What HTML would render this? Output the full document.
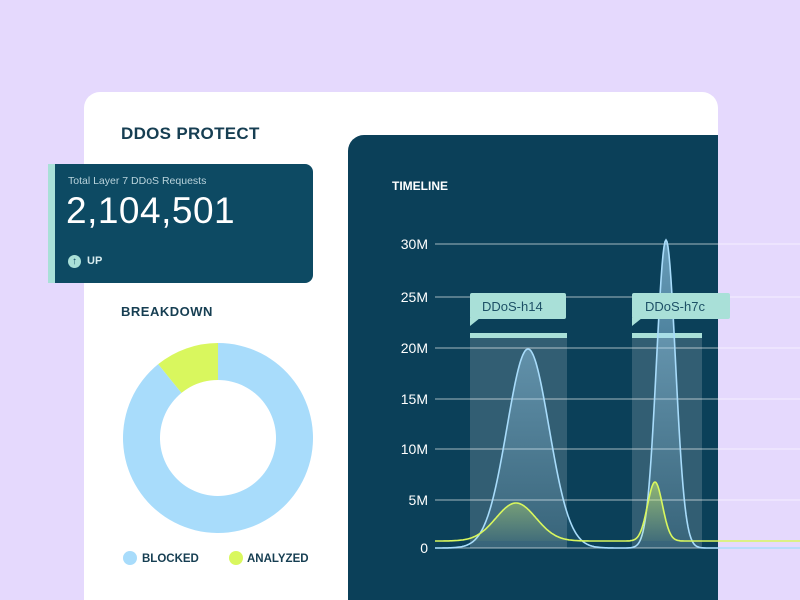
<!DOCTYPE html>
<html style="width:800px;height:600px;overflow:hidden"><head><meta charset="utf-8"><style>
html,body{margin:0;width:800px;height:600px;overflow:hidden}
body{background:#e5d9fd;font-family:"Liberation Sans",sans-serif;position:relative}
.card{position:absolute;left:84px;top:92px;width:634px;height:508px;background:#fff;border-radius:16px 16px 0 0}
.panel{position:absolute;left:348px;top:135px;width:370px;height:465px;background:#0b4059;border-top-left-radius:16px}
.t{position:absolute;color:#163e52;font-weight:bold}
</style></head><body>
<div class="card"></div>
<div class="panel"></div>
<div class="t" style="left:121px;top:124px;font-size:17px;letter-spacing:0.3px">DDOS PROTECT</div>
<div style="position:absolute;left:48px;top:164px;width:265px;height:119px;background:#0d4a63;border-radius:0 8px 8px 0"></div>
<div style="position:absolute;left:48px;top:164px;width:7px;height:119px;background:#a9e0d8"></div>
<div style="position:absolute;left:68px;top:175px;font-size:10.5px;color:#b9d3dc">Total Layer 7 DDoS Requests</div>
<div style="position:absolute;left:66px;top:190px;font-size:37px;color:#fff;letter-spacing:0.5px">2,104,501</div>
<div style="position:absolute;left:68px;top:255px;width:13px;height:13px;border-radius:50%;background:#a9e0d8;color:#0d4a63;font-size:10px;line-height:13px;text-align:center;font-weight:bold">↑</div>
<div style="position:absolute;left:87px;top:255px;font-size:11px;color:#d8ecef;font-weight:bold">UP</div>
<div class="t" style="left:121px;top:304px;font-size:13px;letter-spacing:0.5px">BREAKDOWN</div>
<div style="position:absolute;left:392px;top:179px;font-size:12px;color:#fff;font-weight:bold">TIMELINE</div>
<svg width="800" height="600" style="position:absolute;left:0;top:0">
<defs>
<linearGradient id="gb" x1="0" y1="0" x2="0" y2="1"><stop offset="0" stop-color="#a8dcfb" stop-opacity="0.6"/><stop offset="1" stop-color="#a8dcfb" stop-opacity="0.05"/></linearGradient>
<linearGradient id="gg" x1="0" y1="0" x2="0" y2="1"><stop offset="0" stop-color="#d9f75e" stop-opacity="0.5"/><stop offset="1" stop-color="#d9f75e" stop-opacity="0.05"/></linearGradient>
</defs>
<g id="donut"></g>
<circle cx="130" cy="558" r="7" fill="#a8dcfb"/><text x="142" y="562" font-size="11.5" font-weight="bold" fill="#163e52" font-family="Liberation Sans">BLOCKED</text>
<circle cx="236" cy="558" r="7" fill="#d9f75e"/><text x="247" y="562" font-size="11.5" font-weight="bold" fill="#163e52" font-family="Liberation Sans">ANALYZED</text>
<g fill="#ffffff" fill-opacity="0.16"><rect x="470" y="338" width="97" height="210"/><rect x="632" y="338" width="70" height="210"/></g>
<g fill="#a9e0d8"><rect x="470" y="333" width="97" height="5"/><rect x="632" y="333" width="70" height="5"/></g>
<g stroke="#ffffff" stroke-opacity="0.5" stroke-width="1.3" id="grid"></g>
<g font-size="14" fill="#fff" text-anchor="end" font-family="Liberation Sans" id="lbl"></g>
<g id="curves"></g>
<g fill="#a9e0d8"><rect x="470" y="293" width="96" height="26" rx="2"/><path d="M470 318 L470 326 L480 318Z"/><rect x="632" y="293" width="98" height="26" rx="2"/><path d="M632 318 L632 326 L642 318Z"/></g>
<g font-size="13" fill="#1d5066" font-family="Liberation Sans"><text x="482" y="311">DDoS-h14</text><text x="645" y="311">DDoS-h7c</text></g>
</svg>
<script>
var ns="http://www.w3.org/2000/svg";
function el(p,t,a){var e=document.createElementNS(ns,t);for(var k in a)e.setAttribute(k,a[k]);document.getElementById(p).appendChild(e);return e;}
var cx=218,cy=438,R=95,r=58;
function arc(a0,a1,c){var p=function(a,rr){return [cx+rr*Math.sin(a),cy-rr*Math.cos(a)]};var la=(a1-a0)>Math.PI?1:0;
var A=p(a0,R),B=p(a1,R),C=p(a1,r),D=p(a0,r);
el("donut","path",{d:"M"+A+" A"+R+" "+R+" 0 "+la+" 1 "+B+" L"+C+" A"+r+" "+r+" 0 "+la+" 0 "+D+"Z",fill:c});}
var g=-39*Math.PI/180;
arc(0,2*Math.PI+g,"#a8dcfb");arc(g,0,"#d9f75e");
var ys=[548,500,449,399,348,297,244],ls=["0","5M","10M","15M","20M","25M","30M"];
for(var i=0;i<7;i++){el("grid","line",{x1:435,x2:800,y1:ys[i],y2:ys[i]});var t=el("lbl","text",{x:428,y:ys[i]+5});t.textContent=ls[i];}
function curve(base,peaks,stroke,fill){var pts=[];for(var x=435;x<=800;x+=1){var y=base;peaks.forEach(function(p){var u=(x-p[0])/p[2];y-=p[1]*Math.exp(-u*u/2);});pts.push(x+","+y.toFixed(1));}
el("curves","path",{d:"M435,"+base+" L"+pts.join(" L")+" L800,"+base+"Z",fill:fill,stroke:"none"});
el("curves","polyline",{points:pts.join(" "),fill:"none",stroke:stroke,"stroke-width":1.6});}
curve(548,[[528,199,21],[666,308,9.5]],"#a8dcfb","url(#gb)");
curve(541,[[516,38,20],[655,59,7.5]],"#d9f75e","url(#gg)");
</script>
</body></html>
